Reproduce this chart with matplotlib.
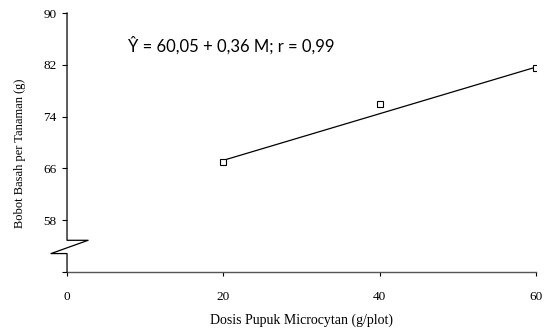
import matplotlib
matplotlib.use("Agg")
import matplotlib.pyplot as plt
import numpy as np

dose = [20, 40, 60]
weight = [67.0, 75.9, 81.5]
intercept = 60.05
slope = 0.36
yticks = [50, 58, 66, 74, 82, 90]
ytick_labels = ["", "58", "66", "74", "82", "90"]
xticks = [0, 20, 40, 60]
equation = "Ŷ = 60,05 + 0,36 M; r = 0,99"

fig = plt.figure(figsize=(5.48, 3.31), dpi=100)
ax = fig.add_axes([0.1223, 0.1782, 0.8558, 0.7825])
serif = ["Liberation Serif", "DejaVu Serif"]

xs = np.array([dose[0], dose[-1]])
ax.plot(xs, intercept + slope * xs, color="black", lw=0.9, zorder=2)
ax.plot(dose, weight, ls="none", marker="s", ms=4.2, mfc="white", mec="black", mew=0.8, zorder=3)

ax.set_xlim(0, 60)
ax.set_ylim(50, 90)
ax.set_xticks(xticks)
ax.set_xticklabels([str(v) for v in xticks], fontfamily=serif, fontsize=9.5)
ax.set_yticks(yticks)
ax.set_yticklabels(ytick_labels, fontfamily=serif, fontsize=9.5)
ax.tick_params(axis="y", direction="out", length=3.5, width=0.8, pad=4)
ax.tick_params(axis="x", direction="out", length=3, width=0.8, pad=11)

for s in ["top", "right", "left"]:
    ax.spines[s].set_visible(False)
ax.spines["bottom"].set_color("#555555")
ax.spines["bottom"].set_linewidth(1.0)

# broken y axis line
bx = [0, 0, 2.7, -2.05, 0, 0]
by = [90, 54.9, 54.9, 52.85, 52.85, 50]
ax.plot(bx, by, color="black", lw=0.9, clip_on=False, zorder=4)

ax.set_xlabel("Dosis Pupuk Microcytan (g/plot)", fontfamily=serif, fontsize=10, labelpad=7)
ax.set_ylabel("Bobot Basah per Tanaman (g)", fontfamily=serif, fontsize=9)
ax.yaxis.set_label_coords(-0.088, 0.46)

ax.text(7.75, 85.0, equation, fontfamily=["Lato", "DejaVu Sans"], fontsize=12, va="center", ha="left")

fig.savefig("out.png", dpi=100)
